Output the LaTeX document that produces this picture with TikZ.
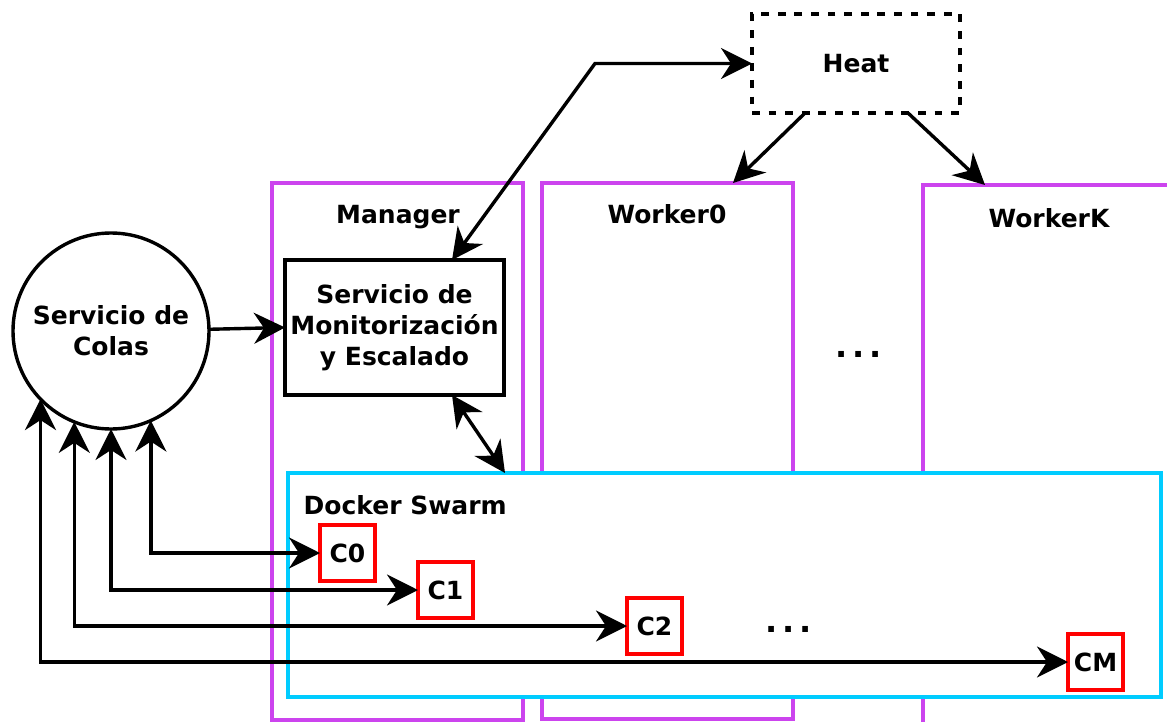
\documentclass[tikz,border=0pt]{standalone}
\usepackage{fontspec}
\setmainfont{DejaVu Sans}
\usetikzlibrary{arrows.meta,calc}
\definecolor{purp}{HTML}{CC44EE}
\definecolor{cyanb}{HTML}{00CCFF}
\definecolor{redb}{HTML}{FF0000}
\newcommand{\wdots}{{\fontsize{32}{32}\selectfont .\kern4.5pt.\kern4.5pt.}}
\begin{document}
\begin{tikzpicture}[x=1pt,y=-1pt,
  font=\fontsize{25}{31}\selectfont\bfseries,
  line width=3.4pt,
  tip/.tip={Stealth[length=31pt,width=31pt,inset=10pt]},
  arr/.style={-tip},
  darr/.style={tip-tip},
  lab/.style={inner sep=0pt, text height=18pt, text depth=0pt},
  cbox/.style={draw=redb, inner sep=0pt, outer sep=0pt, minimum width=55pt, minimum height=56pt, text height=18pt, text depth=0pt},
  worker/.style={draw=purp, inner sep=0pt, outer sep=0pt}
]
\useasboundingbox (0,0) rectangle (1167,722);
\clip (0,0) rectangle (1167,722);
\fill[white] (0,0) rectangle (1167,722);

% machines
\node[worker, minimum width=251pt, minimum height=537pt] (manager) at (397.5,451.5) {};
\node[worker, minimum width=251pt, minimum height=536pt] (worker0) at (667.5,451) {};
\node[worker, minimum width=257pt, minimum height=555pt] (workerK) at (1051.5,462.5) {};
\node[lab] (lmanager) at (398,215) {Manager};
\node[lab] (lworker0) at (667,215) {Worker0};
\node[lab] (lworkerK) at (1049,218) {WorkerK};
\node[anchor=base, inner sep=0pt] (dots1) at (858.5,357) {\wdots};

% docker swarm
\node[draw=cyanb, fill=white, inner sep=0pt, outer sep=0pt, minimum width=873pt, minimum height=224pt] (docker) at (724.5,585) {};
\node[lab, anchor=west] (ldocker) at (302,505) {Docker Swarm};
\node[cbox] (c0) at (347.5,553) {C0};
\node[cbox] (c1) at (445.5,590) {C1};
\node[cbox] (c2) at (654.5,626) {C2};
\node[cbox] (cm) at (1095.5,662) {CM};
\node[anchor=base, inner sep=0pt] (dots2) at (788.5,632) {\wdots};

% heat
\node[draw, dash pattern=on 7.8pt off 8.8pt, inner sep=0pt, outer sep=0pt, minimum width=208pt, minimum height=99pt, text height=18pt, text depth=0pt] (heat) at (856,63.5) {Heat};

% monitor
\node[draw, inner sep=0pt, outer sep=0pt, minimum width=219pt, minimum height=135pt, align=center] (mon) at (394.5,327.5) {Servicio de\\Monitorización\\y Escalado};

% queue service
\node[draw, circle, inner sep=0pt, outer sep=0pt, minimum size=196pt, align=center] (circ) at (111,331) {Servicio de\\Colas};

% connectors
\coordinate (hb) at (595,63.5);
\draw[arr] (circ.1) -- (mon.west);
\draw[darr] ($(mon.north)+(57.5,0)$) -- (hb) -- (heat.west);
\draw[arr] ($(heat.south)+(-51,0)$) -- ($(worker0.north east)+(-60,0)$);
\draw[arr] ($(heat.south)+(52,0)$) -- ($(workerK.north west)+(62,0)$);
\draw[darr] ($(mon.south)+(57.5,0)$) -- ($(docker.north west)+(217,0)$);
\draw[darr] (circ.-66.5) |- (c0.west);
\draw[darr] (circ.south) |- (c1.west);
\draw[darr] (circ.-112.8) |- (c2.west);
\draw[darr] (circ.-136.4) |- (cm.west);
\end{tikzpicture}
\end{document}
